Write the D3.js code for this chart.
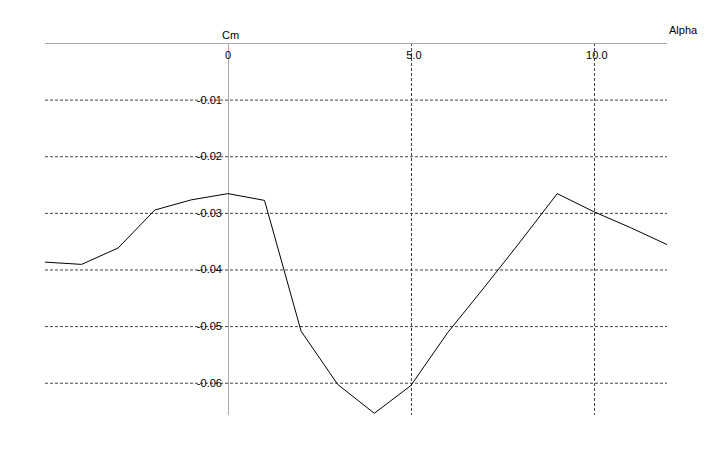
<!DOCTYPE html>
<html><head><meta charset="utf-8">
<script src="https://cdn.jsdelivr.net/npm/d3@7"></script>
<style>body{margin:0;background:#fff}text{font-family:"Liberation Sans",Arial,sans-serif;font-size:11px;fill:#000}</style>
</head><body>
<svg id="chart" width="706" height="452"></svg>
<script>
// data
var alpha = [-5, -4, -3, -2, -1, 0, 1, 2, 3, 4, 5, 6, 7, 8, 9, 10, 11, 12];
var cm = [-0.0387, -0.0391, -0.0362, -0.0295, -0.0277, -0.0266, -0.0278, -0.0509, -0.0603, -0.0654,
          -0.0605, -0.0512, -0.0432, -0.0350, -0.0266, -0.0298, -0.0326, -0.0356];
var xTicks = [0, 5, 10];
var xTickLabels = ["0", "5.0", "10.0"];
var yTicks = [-0.01, -0.02, -0.03, -0.04, -0.05, -0.06];

var svg = d3.select("#chart");
var x = d3.scaleLinear().domain([-5, 12]).range([45, 667]);
var y = d3.scaleLinear().domain([0, -0.0657]).range([43, 415]);

// horizontal grid
svg.selectAll(".hg").data(yTicks).enter().append("line")
  .attr("x1", 45).attr("x2", 667)
  .attr("y1", function(d){ return y(d) + 0.5 }).attr("y2", function(d){ return y(d) + 0.5 })
  .attr("stroke", "#444").attr("stroke-dasharray", "3,2");
// vertical grid
svg.selectAll(".vg").data(xTicks.slice(1)).enter().append("line")
  .attr("x1", function(d){ return Math.round(x(d)) + 0.5 }).attr("x2", function(d){ return Math.round(x(d)) + 0.5 })
  .attr("y1", 43).attr("y2", 415)
  .attr("stroke", "#444").attr("stroke-dasharray", "3,2");

// axes
svg.append("line").attr("x1", 45).attr("x2", 667).attr("y1", 43.5).attr("y2", 43.5).attr("stroke", "#aaa");
svg.append("line").attr("x1", Math.round(x(0)) + 0.5).attr("x2", Math.round(x(0)) + 0.5)
  .attr("y1", 43).attr("y2", 415).attr("stroke", "#aaa");

svg.selectAll(".xl").data(xTicks).enter().append("text")
  .attr("x", function(d){ return d === 0 ? x(d) : x(d) + 3 }).attr("y", 59)
  .attr("text-anchor", "middle")
  .text(function(d, i){ return xTickLabels[i] });
svg.selectAll(".yl").data(yTicks).enter().append("text")
  .attr("x", x(0) - 6).attr("y", function(d){ return y(d) + 4 })
  .attr("text-anchor", "end")
  .text(function(d){ return d.toFixed(2) });

svg.append("text").attr("x", 222).attr("y", 39).text("Cm");
svg.append("text").attr("x", 669).attr("y", 34).text("Alpha");

// curve
var line = d3.line().x(function(d){ return x(d[0]) }).y(function(d){ return y(d[1]) });
svg.append("path").datum(d3.zip(alpha, cm))
  .attr("d", line).attr("fill", "none").attr("stroke", "#000").attr("stroke-width", 1);
</script>
</body></html>
